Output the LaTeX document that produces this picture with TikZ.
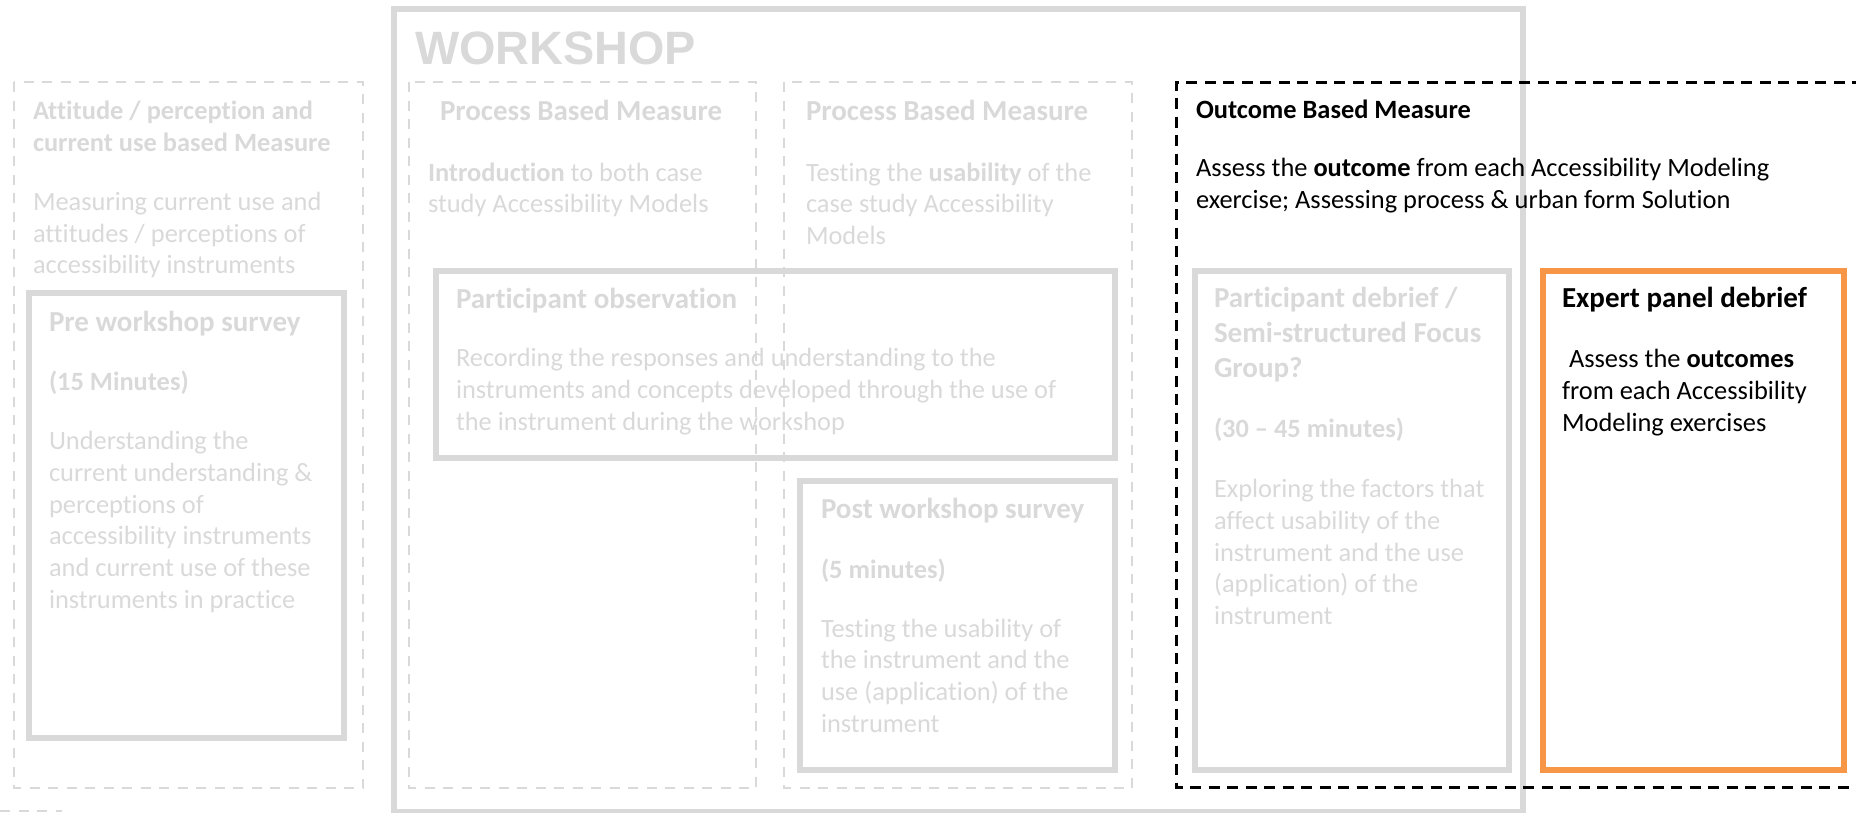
\documentclass[tikz,border=0pt]{standalone}
\usepackage{fontspec}
\setmainfont{Carlito}[Ligatures=NoCommon]
\newfontfamily\headfont{Liberation Sans}
\definecolor{lg}{HTML}{D9D9D9}
\definecolor{og}{HTML}{F79646}
\begin{document}
\begin{tikzpicture}[x=1pt,y=-1pt,
  gdash/.style={draw=lg,line width=2.5pt,dash pattern=on 10pt off 8.5pt},
  bdash/.style={draw=black,line width=3pt,dash pattern=on 11pt off 7.5pt},
  gbox/.style={draw=lg,line width=6.5pt},
  obox/.style={draw=og,line width=6.5pt},
  txt/.style={anchor=base west,inner sep=0pt,outer sep=0pt,text=lg,font=\fontsize{26.4}{32}\selectfont},
  bsm/.style={txt,font=\fontsize{26.4}{32}\selectfont\bfseries},
  ttl/.style={txt,font=\fontsize{29}{35}\selectfont\bfseries},
  dark/.style={text=black}
]
\useasboundingbox (0,0) rectangle (1856,812);
\clip (0,0) rectangle (1856,812);

% WORKSHOP frame
\draw[gbox] (394,9) rectangle (1523,812);
\node[anchor=base west,inner sep=0pt,text=lg,font=\headfont\fontsize{46.8}{50}\selectfont\bfseries] (ws) at (415,64) {WORKSHOP};

% dashed columns
\draw[gdash] (14,82) rectangle (363,788);
\draw[gdash] (409,82) rectangle (756,788);
\draw[gdash] (784,82) rectangle (1132,788);
\draw[gdash] (0,811) -- (62,811);

% inner boxes
\draw[gbox] (29,293) rectangle (344,738);
\draw[gbox] (436,271) rectangle (1115,458);
\draw[gbox] (800,481) rectangle (1115,770);
\draw[gbox] (1195,271) rectangle (1509,770);
\draw[obox] (1543,271) rectangle (1844,770);

% outcome dashed box
\draw[bdash] (1900,82) -- (1176,82) -- (1176,787) -- (1900,787);

% left column
\node[bsm] (a1) at (33,119) {Attitude / perception and};
\node[bsm] (a2) at (33,151) {current use based Measure};
\node[txt] (a3) at (33,210) {Measuring current use and};
\node[txt] (a4) at (33,242) {attitudes / perceptions of};
\node[txt] (a5) at (33,273) {accessibility instruments};

\node[ttl] (p1) at (49,331) {Pre workshop survey};
\node[bsm] (p2) at (49,390) {(15 Minutes)};
\node[txt] (p3) at (49,449) {Understanding the};
\node[txt] (p4) at (49,481) {current understanding \&};
\node[txt] (p5) at (49,513) {perceptions of};
\node[txt] (p6) at (49,544) {accessibility instruments};
\node[txt] (p7) at (49,576) {and current use of these};
\node[txt] (p8) at (49,608) {instruments in practice};

% process column 1
\node[ttl] (b1) at (440,120) {Process Based Measure};
\node[txt] (b2) at (428,181) {\textbf{Introduction} to both case};
\node[txt] (b3) at (428,212) {study Accessibility Models};

% process column 2
\node[ttl] (c1) at (806,120) {Process Based Measure};
\node[txt] (c2) at (806,181) {Testing the \textbf{usability} of the};
\node[txt] (c3) at (806,212) {case study Accessibility};
\node[txt] (c4) at (806,244) {Models};

% participant observation
\node[ttl] (o1) at (456,308) {Participant observation};
\node[txt] (o2) at (456,366) {Recording the responses and understanding to the};
\node[txt] (o3) at (456,398) {instruments and concepts developed through the use of};
\node[txt] (o4) at (456,430) {the instrument during the workshop};

% post workshop
\node[ttl] (q1) at (821,518) {Post workshop survey};
\node[bsm] (q2) at (821,578) {(5 minutes)};
\node[txt] (q3) at (821,637) {Testing the usability of};
\node[txt] (q4) at (821,668) {the instrument and the};
\node[txt] (q5) at (821,700) {use (application) of the};
\node[txt] (q6) at (821,732) {instrument};

% outcome
\node[bsm,dark] (e1) at (1196,118) {Outcome Based Measure};
\node[txt,dark] (e2) at (1196,176) {Assess the \textbf{outcome} from each Accessibility Modeling};
\node[txt,dark] (e3) at (1196,208) {exercise; Assessing process \& urban form Solution};

% participant debrief
\node[ttl] (d1) at (1214,307) {Participant debrief /};
\node[ttl] (d2) at (1214,342) {Semi-structured Focus};
\node[ttl] (d3) at (1214,377) {Group?};
\node[bsm] (d4) at (1214,437) {(30 – 45 minutes)};
\node[txt] (d5) at (1214,497) {Exploring the factors that};
\node[txt] (d6) at (1214,529) {affect usability of the};
\node[txt] (d7) at (1214,561) {instrument and the use};
\node[txt] (d8) at (1214,592) {(application) of the};
\node[txt] (d9) at (1214,624) {instrument};

% expert panel
\node[ttl,dark] (x1) at (1562,307) {Expert panel debrief};
\node[txt,dark] (x2) at (1569,367) {Assess the \textbf{outcomes}};
\node[txt,dark] (x3) at (1562,399) {from each Accessibility};
\node[txt,dark] (x4) at (1562,431) {Modeling exercises};
\end{tikzpicture}
\end{document}
